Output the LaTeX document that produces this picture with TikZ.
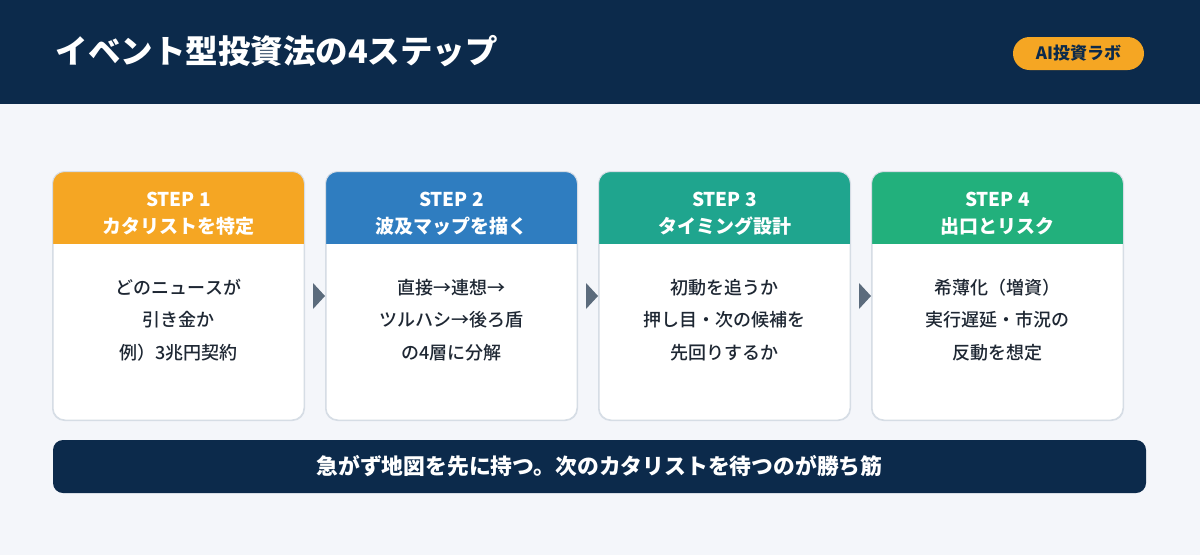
\documentclass[tikz,border=0pt]{standalone}
\usepackage{fontspec}
\setmainfont{Noto Sans CJK JP}
\newfontfamily\medfont{Noto Sans CJK JP Medium}
\usetikzlibrary{calc}
\definecolor{navy}{HTML}{0C2A4B}
\definecolor{bgc}{HTML}{F4F6FA}
\definecolor{orng}{HTML}{F5A623}
\definecolor{blu}{HTML}{2F7DC0}
\definecolor{teal2}{HTML}{1FA58E}
\definecolor{grn}{HTML}{22B07C}
\definecolor{bordc}{HTML}{D6DDE5}
\definecolor{bodyc}{HTML}{1E2733}
\definecolor{arrc}{HTML}{5B6B7C}
\tikzset{
  card/.style={draw=bordc, line width=1pt, fill=white, rounded corners=12pt, minimum width=251pt, minimum height=248pt, inner sep=0pt},
  headtxt/.style={text=white, align=center, font=\bfseries\fontsize{19}{27}\selectfont},
  bodytxt/.style={text=bodyc, align=center, font=\medfont\fontsize{18}{32.5}\selectfont},
  tri/.style={fill=arrc},
}
\begin{document}
\begin{tikzpicture}[x=1pt,y=-1pt]
\fill[bgc] (0,0) rectangle (1200,555);
\useasboundingbox (0,0) rectangle (1200,555);
\fill[navy] (0,0) rectangle (1200,104);
\node[anchor=west, text=white, font=\bfseries\fontsize{32.5}{38}\selectfont] (title) at (52,51) {イベント型投資法の4ステップ};
\node[fill=orng, rounded corners=16.5pt, minimum width=131pt, minimum height=33pt, inner sep=0pt, text=navy, font=\bfseries\fontsize{17}{20}\selectfont] (badge) at (1078.5,53.5) {AI投資ラボ};
% cards
\foreach \i/\col/\hd/\bd in {
  1/orng/{STEP 1\\カタリストを特定}/{どのニュースが\\引き金か\\例）3兆円契約},
  2/blu/{STEP 2\\波及マップを描く}/{直接→連想→\\ツルハシ→後ろ盾\\の4層に分解},
  3/teal2/{STEP 3\\タイミング設計}/{初動を追うか\\押し目・次の候補を\\先回りするか},
  4/grn/{STEP 4\\出口とリスク}/{希薄化（増資）\\実行遅延・市況の\\反動を想定}}{
  \pgfmathsetmacro{\cx}{178.5+273*(\i-1)}
  \node[card] (c\i) at (\cx,296) {};
  \begin{scope}
    \clip[rounded corners=12pt] (c\i.south west) rectangle (c\i.north east);
    \fill[\col] (c\i.north west) rectangle ($(c\i.north east)+(0,72)$);
  \end{scope}
  \draw[bordc, line width=1pt, rounded corners=12pt] (c\i.south west) rectangle (c\i.north east);
  \node[headtxt] (h\i) at (\cx,213.5) {\hd};
  \node[bodytxt] (b\i) at (\cx,320) {\bd};
}
\foreach \a/\b in {1/2,2/3,3/4}{
  \coordinate (m\a) at ($(c\a.east)!0.5!(c\b.west)$);
  \fill[tri] ($(m\a)+(-2,-13)$) -- ($(m\a)+(10,0)$) -- ($(m\a)+(-2,13)$) -- cycle;
}
\node[fill=navy, rounded corners=10pt, minimum width=1093pt, minimum height=53pt, inner sep=0pt, text=white, font=\bfseries\fontsize{21.8}{24}\selectfont] (banner) at (599.5,466.5) {急がず地図を先に持つ。次のカタリストを待つのが勝ち筋};
\end{tikzpicture}
\end{document}
